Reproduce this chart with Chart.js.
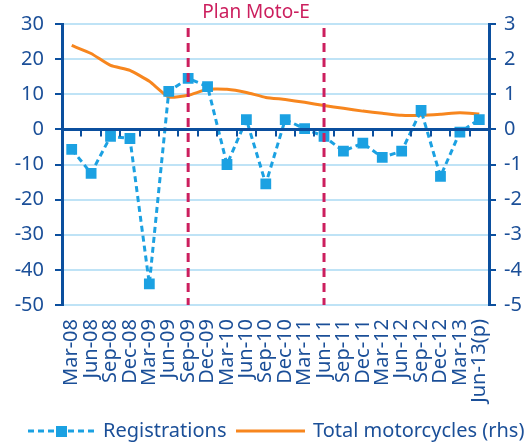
<!DOCTYPE html>
<html>
<head>
<meta charset="utf-8">
<script src="https://cdn.jsdelivr.net/npm/chart.js@4"></script>
<style>
  body { margin: 0; background: #fff; }
  #wrap { width: 530px; height: 446px; }
</style>
</head>
<body>
<div id="wrap"><canvas id="myChart" width="530" height="446"></canvas></div>
<script>
// Data
var quarters = ['Mar-08', 'Jun-08', 'Sep-08', 'Dec-08', 'Mar-09', 'Jun-09', 'Sep-09', 'Dec-09',
    'Mar-10', 'Jun-10', 'Sep-10', 'Dec-10', 'Mar-11', 'Jun-11', 'Sep-11', 'Dec-11',
    'Mar-12', 'Jun-12', 'Sep-12', 'Dec-12', 'Mar-13', 'Jun-13(p)'];
var registrations = [-5.7, -12.5, -2, -2.6, -44, 10.8, 14.5, 12.2, -10, 2.8, -15.5, 2.8,
    0.2, -2, -6.2, -3.9, -8, -6.2, 5.4, -13.4, -0.8, 2.8];
var totalMotorcycles = [2.39, 2.16, 1.82, 1.68, 1.37, 0.92, 0.97, 1.14, 1.14, 1.05, 0.91, 0.85,
    0.77, 0.68, 0.6, 0.52, 0.46, 0.4, 0.4, 0.43, 0.47, 0.44];
var planMarkers = ['Sep-09', 'Jun-11'];
var planLabel = 'Plan Moto-E';
var leftTicks = [30, 20, 10, 0, -10, -20, -30, -40, -50];
var rightTicks = [3, 2, 1, 0, -1, -2, -3, -4, -5];

var navy = '#0b4f9e';
var textBlue = '#1b4f98';
var gridBlue = '#bfe3f6';
var cyan = '#1ba1e2';
var orange = '#f7861e';
var crimson = '#cc1f5e';
var fontFam = '"Noto Sans", sans-serif';

// Zero line, plan markers, label and custom legend
var extras = {
    id: 'extras',
    afterDatasetsDraw: function (chart) {
        var c = chart.ctx, x = chart.scales.x, y = chart.scales.y, a = chart.chartArea;
        var y0 = y.getPixelForValue(0);
        c.save();
        c.strokeStyle = navy;
        c.lineWidth = 3;
        c.beginPath();
        c.moveTo(a.left, y0);
        c.lineTo(a.right, y0);
        c.stroke();
        c.lineWidth = 2;
        var step = (a.right - a.left) / quarters.length;
        for (var i = 1; i < quarters.length; i++) {
            var px = Math.round(a.left + i * step);
            c.beginPath();
            c.moveTo(px, y0);
            c.lineTo(px, y0 + 7);
            c.stroke();
        }
        c.strokeStyle = crimson;
        c.lineWidth = 3;
        c.setLineDash([9, 6]);
        var xs = planMarkers.map(function (m) { return x.getPixelForValue(quarters.indexOf(m)); });
        xs.forEach(function (px) {
            c.beginPath();
            c.moveTo(px, a.top + 4);
            c.lineTo(px, a.bottom);
            c.stroke();
        });
        c.setLineDash([]);
        c.fillStyle = crimson;
        c.font = '19px ' + fontFam;
        c.textAlign = 'center';
        c.textBaseline = 'middle';
        c.fillText(planLabel, (xs[0] + xs[1]) / 2, 13);
        c.restore();
    },
    afterDraw: function (chart) {
        var c = chart.ctx, ly = 431;
        c.save();
        c.font = '20px ' + fontFam;
        c.textBaseline = 'middle';
        c.textAlign = 'left';
        // Registrations
        c.strokeStyle = cyan;
        c.lineWidth = 3;
        c.setLineDash([6, 4]);
        c.beginPath();
        c.moveTo(28, ly);
        c.lineTo(96, ly);
        c.stroke();
        c.setLineDash([]);
        c.fillStyle = cyan;
        c.fillRect(56, ly - 5, 11, 11);
        c.fillStyle = textBlue;
        c.fillText(chart.data.datasets[0].label, 103, ly);
        // Total motorcycles
        c.strokeStyle = orange;
        c.beginPath();
        c.moveTo(236, ly);
        c.lineTo(305, ly);
        c.stroke();
        c.fillText(chart.data.datasets[1].label, 313, ly);
        c.restore();
    }
};

var ctx = document.getElementById('myChart').getContext('2d');

var myChart = new Chart(ctx, {
    type: 'line',
    data: {
        labels: quarters,
        datasets: [{
            label: 'Registrations',
            data: registrations,
            yAxisID: 'y',
            borderColor: cyan,
            backgroundColor: cyan,
            borderWidth: 3,
            borderDash: [6, 4],
            pointStyle: 'rect',
            pointRadius: 5.5,
            pointHoverRadius: 5.5,
            tension: 0
        }, {
            label: 'Total motorcycles (rhs)',
            data: totalMotorcycles,
            yAxisID: 'y1',
            borderColor: orange,
            backgroundColor: orange,
            borderWidth: 3,
            pointRadius: 0,
            tension: 0.15
        }]
    },
    options: {
        responsive: false,
        animation: false,
        layout: { padding: { top: 24, left: 0, right: 0, bottom: 32 } },
        plugins: {
            legend: { display: false },
            tooltip: { enabled: false }
        },
        scales: {
            x: {
                offset: true,
                grid: { display: false, offset: true },
                border: { display: false },
                afterFit: function (axis) { axis.height = 109; },
                ticks: {
                    autoSkip: false,
                    maxRotation: 90,
                    minRotation: 90,
                    color: textBlue,
                    padding: 6,
                    font: { family: fontFam, size: 20 }
                }
            },
            y: {
                position: 'left',
                min: -50,
                max: 30,
                afterBuildTicks: function (axis) {
                    axis.ticks = leftTicks.map(function (v) { return { value: v }; });
                },
                afterFit: function (axis) { axis.width = 62; },
                grid: { color: gridBlue, lineWidth: 2, tickColor: navy, tickLength: 7 },
                border: { color: navy, width: 3 },
                ticks: {
                    color: textBlue,
                    padding: 11,
                    font: { family: fontFam, size: 20 }
                }
            },
            y1: {
                position: 'right',
                min: -5,
                max: 3,
                afterBuildTicks: function (axis) {
                    axis.ticks = rightTicks.map(function (v) { return { value: v }; });
                },
                afterFit: function (axis) { axis.width = 41; },
                grid: { drawOnChartArea: false, tickColor: navy, tickLength: 7, lineWidth: 2 },
                border: { color: navy, width: 3 },
                ticks: {
                    color: textBlue,
                    padding: 8,
                    font: { family: fontFam, size: 20 }
                }
            }
        }
    },
    plugins: [extras]
});
</script>
</body>
</html>
